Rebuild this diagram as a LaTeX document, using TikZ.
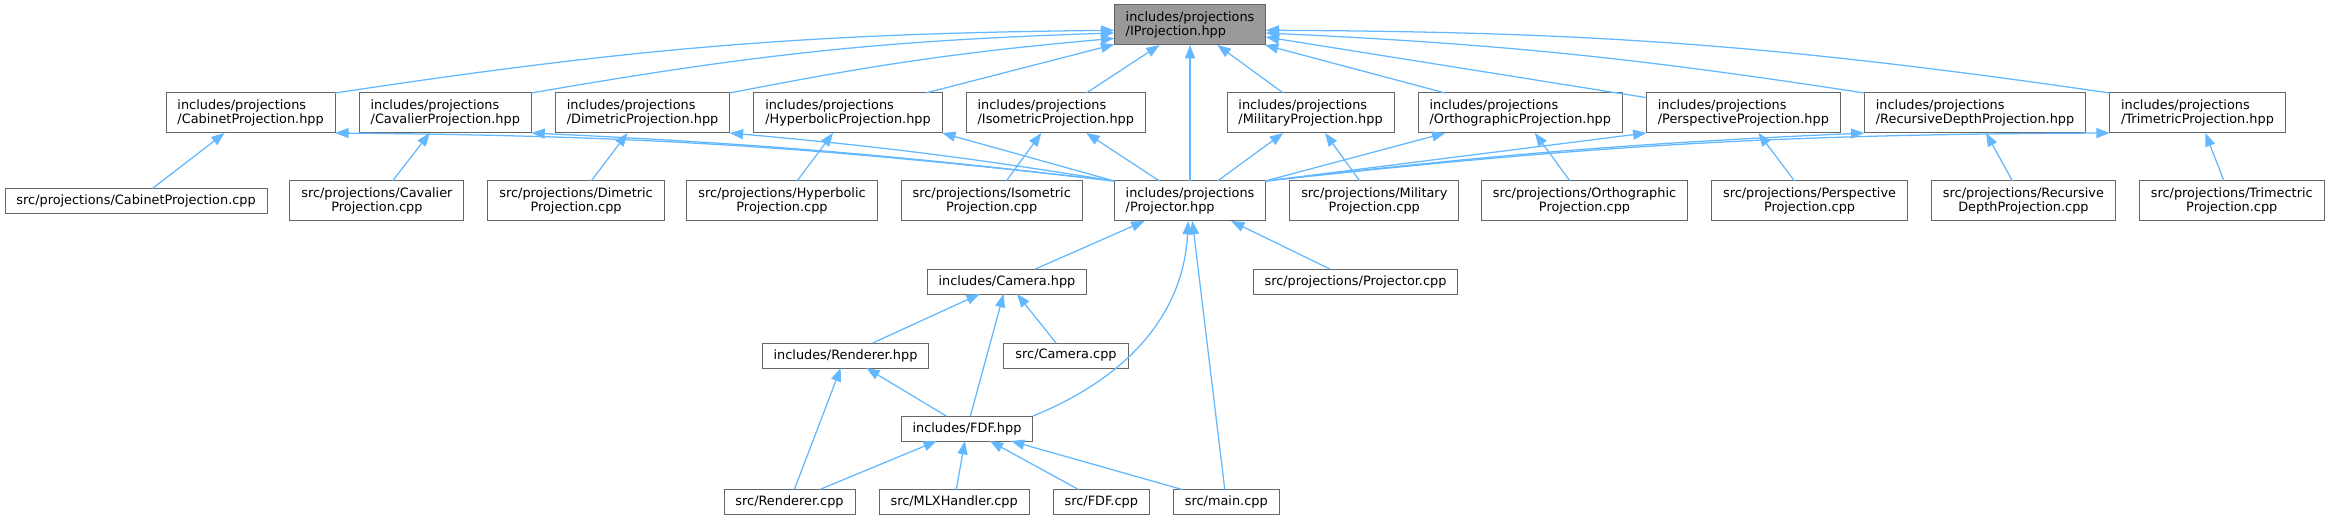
\documentclass[tikz,border=0pt]{standalone}
\usepackage{fontspec}
\setmainfont{DejaVu Sans}
\usepackage{xcolor}
\usepackage{tikz}
\usetikzlibrary{positioning, arrows.meta}
\definecolor{edgeblue}{HTML}{63B8FF}
\definecolor{boxgrey}{HTML}{666666}
\definecolor{headgrey}{HTML}{999999}
\tikzset{
  >=latex,
  file/.style={draw=boxgrey,line width=0.75pt,fill=white,inner xsep=8.6pt,inner ysep=2pt,outer sep=0pt,
    font=\fontsize{9.65pt}{11pt}\selectfont},
  hdr/.style={file,align=left,minimum height=30pt},      % two line header box
  src/.style={file,align=center,minimum height=30pt},    % two line source box
  one/.style={file,minimum height=18.75pt},              % one line box
  top/.style={hdr,fill=headgrey},
  dep/.style={-{Triangle[length=10pt,width=7.5pt]},line width=0.95pt,edgeblue}
}

\begin{document}
\begin{tikzpicture}[x=0.75pt, y=-0.75pt]
  \useasboundingbox (0,0) rectangle (2336,520);

  % Interface
  \node[top] (iproj) at (1190,25) {includes/projections\\/IProjection.hpp};

  % Projection headers
  \node[hdr, anchor=west] (cabh) at (166,113) {includes/projections\\/CabinetProjection.hpp};
  \node[hdr, right=18pt of cabh] (cavh) {includes/projections\\/CavalierProjection.hpp};
  \node[hdr, right=18pt of cavh] (dimh) {includes/projections\\/DimetricProjection.hpp};
  \node[hdr, right=18pt of dimh] (hyph) {includes/projections\\/HyperbolicProjection.hpp};
  \node[hdr, right=18pt of hyph] (isoh) {includes/projections\\/IsometricProjection.hpp};
  \node[hdr, anchor=west] (milh) at (1227,113) {includes/projections\\/MilitaryProjection.hpp};
  \node[hdr, right=18pt of milh] (orth) {includes/projections\\/OrthographicProjection.hpp};
  \node[hdr, right=18pt of orth] (persph) {includes/projections\\/PerspectiveProjection.hpp};
  \node[hdr, right=18pt of persph] (rech) {includes/projections\\/RecursiveDepthProjection.hpp};
  \node[hdr, right=18pt of rech] (trih) {includes/projections\\/TrimetricProjection.hpp};

  % Projection sources and projector
  \node[one, anchor=west] (cabc) at (5,201) {src/projections/CabinetProjection.cpp};
  \node[src, right=17pt of cabc] (cavc) {src/projections/Cavalier\\Projection.cpp};
  \node[src, right=18pt of cavc] (dimc) {src/projections/Dimetric\\Projection.cpp};
  \node[src, right=17pt of dimc] (hypc) {src/projections/Hyperbolic\\Projection.cpp};
  \node[src, right=18pt of hypc] (isoc) {src/projections/Isometric\\Projection.cpp};
  \node[hdr] (proj) at (1190,201) {includes/projections\\/Projector.hpp};
  \node[src, right=18pt of proj] (milc) {src/projections/Military\\Projection.cpp};
  \node[src, right=17pt of milc] (ortc) {src/projections/Orthographic\\Projection.cpp};
  \node[src, right=18pt of ortc] (perc) {src/projections/Perspective\\Projection.cpp};
  \node[src, right=18pt of perc] (recc) {src/projections/Recursive\\DepthProjection.cpp};
  \node[src, right=18pt of recc] (tric) {src/projections/Trimectric\\Projection.cpp};

  % Rest of the program
  \node[one] (camh) at (1007,281.5) {includes/Camera.hpp};
  \node[one] (projc) at (1355.5,281.5) {src/projections/Projector.cpp};
  \node[one] (rendh) at (845.5,355.5) {includes/Renderer.hpp};
  \node[one] (camc) at (1066,355.5) {src/Camera.cpp};
  \node[one] (fdfh) at (967,428.5) {includes/FDF.hpp};
  \node[one, anchor=west] (rendc) at (724,502) {src/Renderer.cpp};
  \node[one, right=18pt of rendc] (mlxc) {src/MLXHandler.cpp};
  \node[one, right=18pt of mlxc] (fdfc) {src/FDF.cpp};
  \node[one, right=18pt of fdfc] (mainc) {src/main.cpp};

  % Headers -> IProjection
  \draw[dep] (cabh.north east) to[bend left=4] (iproj.184);
  \draw[dep] (cavh.north east) to[bend left=4] (iproj.186);
  \draw[dep] (dimh.north east) to[bend left=3] (iproj.190);
  \draw[dep] (hyph) -- (iproj);
  \draw[dep] (isoh) -- (iproj);
  \draw[dep] (proj) -- (iproj);
  \draw[dep] (milh) -- (iproj);
  \draw[dep] (orth) -- (iproj);
  \draw[dep] (persph) -- (iproj);
  \draw[dep] (rech.north west) to[bend right=3] (iproj.354);
  \draw[dep] (trih.north west) to[bend right=4] (iproj.356);

  % Sources -> headers
  \draw[dep] (cabc) -- (cabh);
  \draw[dep] (cavc) -- (cavh);
  \draw[dep] (dimc) -- (dimh);
  \draw[dep] (hypc) -- (hyph);
  \draw[dep] (isoc) -- (isoh);
  \draw[dep] (milc) -- (milh);
  \draw[dep] (ortc) -- (orth);
  \draw[dep] (perc) -- (persph);
  \draw[dep] (recc) -- (rech);
  \draw[dep] (tric) -- (trih);

  % Projector -> headers
  \draw[dep] (proj.north west) to[bend right=3] (cabh.south east);
  \draw[dep] (proj.north west) to[bend right=2] (cavh.south east);
  \draw[dep] (proj.north west) to[bend right=2] (dimh.south east);
  \draw[dep] (proj.north west) -- (hyph.south east);
  \draw[dep] (proj) -- (isoh);
  \draw[dep] (proj) -- (milh);
  \draw[dep] (proj) -- (orth);
  \draw[dep] (proj.north east) -- (persph.south west);
  \draw[dep] (proj.north east) to[bend left=2] (rech.south west);
  \draw[dep] (proj.north east) to[bend left=3] (trih.south west);

  % Lower part
  \draw[dep] (camh) -- (proj);
  \draw[dep] (projc) -- (proj);
  \draw[dep] (fdfh.north east) to[out=22, in=-93] (proj.265);
  \draw[dep] (mainc) -- (proj);
  \draw[dep] (rendh) -- (camh);
  \draw[dep] (fdfh) -- (camh);
  \draw[dep] (camc) -- (camh);
  \draw[dep] (rendc) -- (rendh);
  \draw[dep] (fdfh) -- (rendh);
  \draw[dep] (rendc) -- (fdfh);
  \draw[dep] (mlxc) -- (fdfh);
  \draw[dep] (fdfc) -- (fdfh);
  \draw[dep] (mainc) -- (fdfh);

\end{tikzpicture}
\end{document}
